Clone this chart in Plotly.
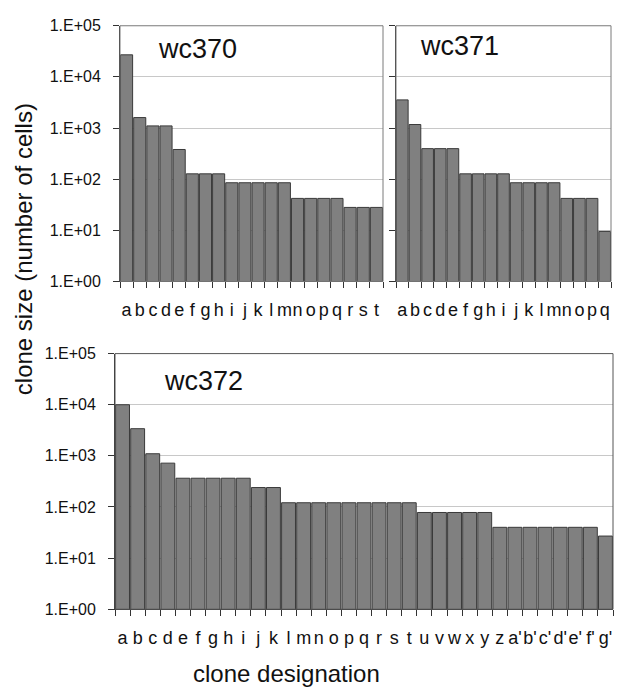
import plotly.graph_objects as go

W, H = 623, 700

cats370 = list("abcdefghijklmnopqrst")
vals370 = [27000, 1600, 1100, 1100, 380, 127, 127, 127, 85, 85, 85, 85, 85,
           42, 42, 42, 42, 28, 28, 28]

cats371 = list("abcdefghijklmnopq")
vals371 = [3550, 1170, 395, 395, 395, 127, 127, 127, 127, 85, 85, 85, 85,
           42, 42, 42, 9.5]

cats372 = list("abcdefghijklmnopqrstuvwxyz") + ["a'", "b'", "c'", "d'", "e'", "f'", "g'"]
vals372 = [10000, 3400, 1100, 720, 365, 365, 365, 365, 365, 240, 240,
           121, 121, 121, 121, 121, 121, 121, 121, 121,
           78, 78, 78, 78, 78,
           40, 40, 40, 40, 40, 40, 40, 27]

ytickvals = [1, 10, 100, 1000, 10000, 100000]
yticktext = ["1.E+00", "1.E+01", "1.E+02", "1.E+03", "1.E+04", "1.E+05"]

FONT = "Liberation Sans, Arial, sans-serif"
BAR = "#808080"
EDGE = "#3a3a3a"

fig = go.Figure()
for cats, vals, xa, ya in [(cats370, vals370, "x", "y"),
                           (cats371, vals371, "x2", "y2"),
                           (cats372, vals372, "x3", "y3")]:
    fig.add_trace(go.Bar(x=cats, y=vals, xaxis=xa, yaxis=ya,
                         marker=dict(color=BAR, line=dict(color=EDGE, width=1)),
                         showlegend=False))

# the page body has an 8px margin; target screen pixels are mapped accordingly
OFF = 8

def px_x(p):
    return (p - OFF) / W

def px_y(p):
    return 1 - (p - OFF) / H

top_dom = [px_y(280), px_y(18)]
bot_dom = [px_y(616), px_y(354)]

def xaxis(cats, dom, anchor):
    return dict(type="category", domain=dom, anchor=anchor,
                tickmode="array", tickvals=cats, ticktext=cats, tickangle=0,
                tickson="boundaries", ticks="outside", ticklen=6,
                tickcolor="#333333", showline=True, linecolor="#333333", linewidth=1,
                mirror=False, showgrid=False, tickfont=dict(size=18, color="#111111"),
                ticklabelstandoff=12, fixedrange=True)

ycommon = dict(type="log", range=[0, 5], tickvals=ytickvals, ticktext=yticktext,
               ticks="outside", ticklen=6, tickcolor="#333333", showline=True,
               linecolor="#333333", linewidth=1, showgrid=True, gridcolor="#c8c8c8",
               gridwidth=1, tickfont=dict(size=16, color="#111111"), zeroline=False,
               ticklabelstandoff=9)

fig.update_layout(
    width=W, height=H, autosize=False,
    margin=dict(l=0, r=0, t=0, b=0),
    paper_bgcolor="white", plot_bgcolor="white",
    font=dict(family=FONT, color="#111111"),
    bargap=0.08,
    xaxis=xaxis(cats370, [px_x(120), px_x(383)], "y"),
    yaxis=dict(domain=top_dom, anchor="x", **ycommon),
    xaxis2=xaxis(cats371, [px_x(396), px_x(611)], "y2"),
    yaxis2=dict(domain=top_dom, anchor="x2", showticklabels=False, **ycommon),
    xaxis3=xaxis(cats372, [px_x(115), px_x(613)], "y3"),
    yaxis3=dict(domain=bot_dom, anchor="x3", **ycommon),
)

# frames (top and right borders)
for xa, ya, col in [("x", "y", "#7a7a7a"), ("x2", "y2", "#7a7a7a"), ("x3", "y3", "#555555")]:
    fig.add_shape(type="rect", xref=f"{xa} domain", yref=f"{ya} domain",
                  x0=0, x1=1, y0=0, y1=1, line=dict(color=col, width=1),
                  layer="above")

ann = [("wc370", 197, 42), ("wc371", 459, 39), ("wc372", 203, 382)]
for t, x, y in ann:
    fig.add_annotation(text=t, x=px_x(x), y=px_y(y), xref="paper", yref="paper",
                       showarrow=False, font=dict(size=27, color="#111111"),
                       xanchor="center", yanchor="middle")

fig.add_annotation(text="clone size (number of cells)", x=px_x(23), y=px_y(247),
                   xref="paper", yref="paper", showarrow=False, textangle=-90,
                   font=dict(size=24, color="#111111"), xanchor="center", yanchor="middle")
fig.add_annotation(text="clone designation", x=px_x(286), y=px_y(682),
                   xref="paper", yref="paper", showarrow=False,
                   font=dict(size=24, color="#111111"), xanchor="center", yanchor="middle")

fig.write_html("out.html")
